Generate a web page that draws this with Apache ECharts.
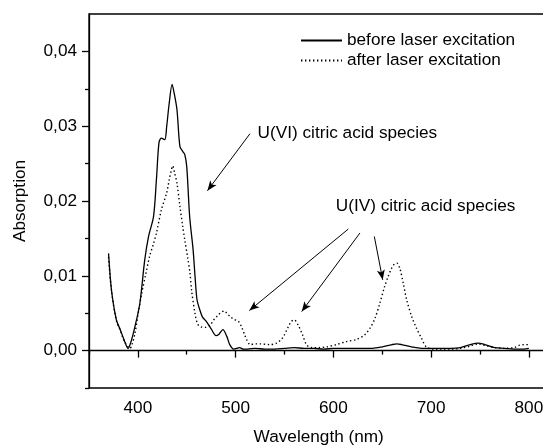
<!DOCTYPE html>
<html>
<head>
<meta charset="utf-8">
<script src="https://cdn.jsdelivr.net/npm/echarts@6/dist/echarts.min.js"></script>
<style>
html,body{margin:0;padding:0;background:#fff;}
#chart{width:543px;height:447px;}
</style>
</head>
<body>
<div id="chart"></div>
<script>
// Wavelength (nm) and absorption, before laser excitation (solid)
var wlBefore = [370,373,378,382,386,390,393,397,402,407,411,416,419,421.6,424,427.5,429.5,432,435,437,440,443,446,448,450,453,456.5,458.5,460.5,463.5,466,470,475,480,483,487,491,494,498,501,504,508,512,520,530,540,550,560,570,580,590,600,610,620,630,640,650,660,665,670,680,690,700,710,720,730,740,748,755,765,775,785,795,800];
var absBefore = [0.0130,0.0081,0.0041,0.0028,0.0014,0.0003,0.0012,0.0032,0.0063,0.0121,0.0153,0.0179,0.0229,0.0278,0.0284,0.0282,0.0300,0.0330,0.0356,0.0345,0.0322,0.0273,0.0266,0.0262,0.0246,0.0179,0.0135,0.0099,0.0068,0.0054,0.0045,0.0039,0.0029,0.0020,0.0022,0.0028,0.0019,0.0008,0.0002,0.0003,0.0004,0.0002,0.0002,0.0003,0.0002,0.0002,0.0003,0.0004,0.0003,0.0003,0.0002,0.0003,0.0003,0.0003,0.0003,0.0003,0.0005,0.0008,0.0009,0.0008,0.0005,0.0003,0.0003,0.0003,0.0003,0.0004,0.0008,0.0010,0.0008,0.0004,0.0003,0.0002,0.0002,0.0003];

// after laser excitation (dotted)
var wlAfter = [370,373,378,382,386,392,394,397,401,404,408,412,416,419,424,429.5,432,434,435.6,437.5,440,443,446,448,451,453.3,455,458.4,461,464,469,474,477,481,485,488.5,491,494,498,503,506,509,511.5,515,520,525,535,542,546,549,554,557,560,564,568.5,572.5,578,585,593,603,613,624,632,637.5,642.5,647.5,652.5,656,659.5,662,665,668,671.5,675,680,685,690,695,702,710,720,730,740,748,755,765,775,785,790,795,800];
var absAfter = [0.0125,0.0080,0.0040,0.0027,0.0013,0.0003,0.0008,0.0023,0.0055,0.0077,0.0102,0.0126,0.0143,0.0157,0.0188,0.0211,0.0228,0.0240,0.0247,0.0238,0.0224,0.0193,0.0165,0.0148,0.0124,0.0104,0.0080,0.0050,0.0036,0.0032,0.0031,0.0034,0.0040,0.0046,0.0051,0.0053,0.0050,0.0046,0.0042,0.0039,0.0032,0.0022,0.0014,0.0008,0.0009,0.0009,0.0008,0.0010,0.0014,0.0019,0.0032,0.0039,0.0041,0.0034,0.0021,0.0008,0.0004,0.0004,0.0005,0.0008,0.0012,0.0015,0.0021,0.0030,0.0043,0.0063,0.0086,0.0099,0.0110,0.0115,0.0117,0.0110,0.0090,0.0068,0.0046,0.0030,0.0017,0.0005,0.0002,0.0002,0.0002,0.0003,0.0006,0.0009,0.0007,0.0004,0.0003,0.0004,0.0007,0.0008,0.0008];

var seriesNames = ['before laser excitation', 'after laser excitation'];
var xMajorTicks = [400, 500, 600, 700, 800];
var xMinorTicks = [350, 450, 550, 650, 750];
var yMajorTicks = [0, 0.01, 0.02, 0.03, 0.04];
var yMinorTicks = [-0.005, 0.005, 0.015, 0.025, 0.035];

// annotations (data coordinates)
var labelUVI = {text: 'U(VI) citric acid species', at: [522.5, 0.0290]};
var labelUIV = {text: 'U(IV) citric acid species', at: [602.5, 0.0193]};
var arrows = [
  [[514.7, 0.0290], [471.2, 0.02138]],
  [[615.3, 0.01625], [514.0, 0.00535]],
  [[627.2, 0.01572], [567.6, 0.00522]],
  [[641.9, 0.01526], [650.5, 0.00946]]
];

function zip(xs, ys) { return xs.map(function (x, i) { return [x, ys[i]]; }); }

var FONT = 'Liberation Sans, Arial, sans-serif';
var FS = 17.2;

var chart = echarts.init(document.getElementById('chart'), null, {renderer: 'canvas'});

var xCommon = {type: 'value', min: 350, max: 820, interval: 50, gridIndex: 0, splitLine: {show: false}};
var yCommon = {type: 'value', min: -0.005, max: 0.045, interval: 0.005, gridIndex: 0, splitLine: {show: false}};

chart.setOption({
  animation: false,
  backgroundColor: '#fff',
  grid: {left: 89, top: 14, width: 459.4, height: 374, containLabel: false, outerBoundsMode: 'none',
    show: true, borderColor: '#000', borderWidth: 1.3, backgroundColor: 'transparent'},
  legend: {
    data: seriesNames,
    orient: 'vertical',
    left: 295, top: 26,
    itemWidth: 41, itemHeight: 14, itemGap: 1,
    itemStyle: {opacity: 0},
    textStyle: {fontFamily: FONT, fontSize: FS, color: '#000', lineHeight: 19}
  },
  xAxis: [
    Object.assign({}, xCommon, {
      position: 'bottom',
      axisLine: {show: true, lineStyle: {color: '#000', width: 1.3}},
      axisTick: {show: true, inside: false, length: 7, customValues: xMajorTicks, lineStyle: {color: '#000', width: 1.3}},
      axisLabel: {show: true, customValues: xMajorTicks, margin: 12, fontFamily: FONT, fontSize: FS, color: '#000'},
      name: 'Wavelength (nm)', nameLocation: 'middle', nameGap: 41,
      nameTextStyle: {fontFamily: FONT, fontSize: FS, color: '#000'}
    }),
    Object.assign({}, xCommon, {
      position: 'bottom',
      axisLine: {show: false},
      axisTick: {show: true, inside: false, length: 4, customValues: xMinorTicks, lineStyle: {color: '#000', width: 1.3}},
      axisLabel: {show: false}
    })
  ],
  yAxis: [
    Object.assign({}, yCommon, {
      position: 'left',
      axisLine: {show: true, lineStyle: {color: '#000', width: 1.3}},
      axisTick: {show: true, inside: false, length: 7, customValues: yMajorTicks, lineStyle: {color: '#000', width: 1.3}},
      axisLabel: {show: true, customValues: yMajorTicks, margin: 12, fontFamily: FONT, fontSize: FS, color: '#000',
        formatter: function (v) { return v.toFixed(2).replace('.', ','); }},
      name: 'Absorption', nameLocation: 'middle', nameGap: 60, nameRotate: 90,
      nameTextStyle: {fontFamily: FONT, fontSize: FS, color: '#000'}
    }),
    Object.assign({}, yCommon, {
      position: 'left',
      axisLine: {show: false},
      axisTick: {show: true, inside: false, length: 4, customValues: yMinorTicks, lineStyle: {color: '#000', width: 1.3}},
      axisLabel: {show: false}
    })
  ],
  series: [
    {
      name: seriesNames[0], type: 'line', xAxisIndex: 0, yAxisIndex: 0,
      data: zip(wlBefore, absBefore), showSymbol: false, symbol: 'none', smooth: 0.3,
      lineStyle: {color: '#000', width: 1.3, type: 'solid'},
      itemStyle: {color: '#000'},
      markLine: {
        silent: true, animation: false,
        symbol: ['none', 'arrow'], symbolSize: 9,
        label: {show: false},
        lineStyle: {color: '#000', width: 1, type: 'solid'},
        data: arrows.map(function (a) {
          return [{coord: a[0], symbol: 'none'}, {coord: a[1], symbol: 'arrow', symbolSize: [6, 10]}];
        })
      },
      markPoint: {
        silent: true, symbol: 'circle', symbolSize: 1,
        itemStyle: {color: 'rgba(0,0,0,0)'},
        label: {show: true, position: 'inside', align: 'left', verticalAlign: 'middle',
          fontFamily: FONT, fontSize: FS, color: '#000', formatter: function (p) { return p.name; }},
        data: [
          {name: labelUVI.text, coord: labelUVI.at},
          {name: labelUIV.text, coord: labelUIV.at}
        ]
      }
    },
    {
      name: seriesNames[1], type: 'line', xAxisIndex: 0, yAxisIndex: 0,
      data: zip(wlAfter, absAfter), showSymbol: false, symbol: 'none', smooth: 0.3,
      lineStyle: {color: '#000', width: 1.4, type: [1.4, 2.6]},
      itemStyle: {color: '#000'}
    }
  ]
});
</script>
</body>
</html>
